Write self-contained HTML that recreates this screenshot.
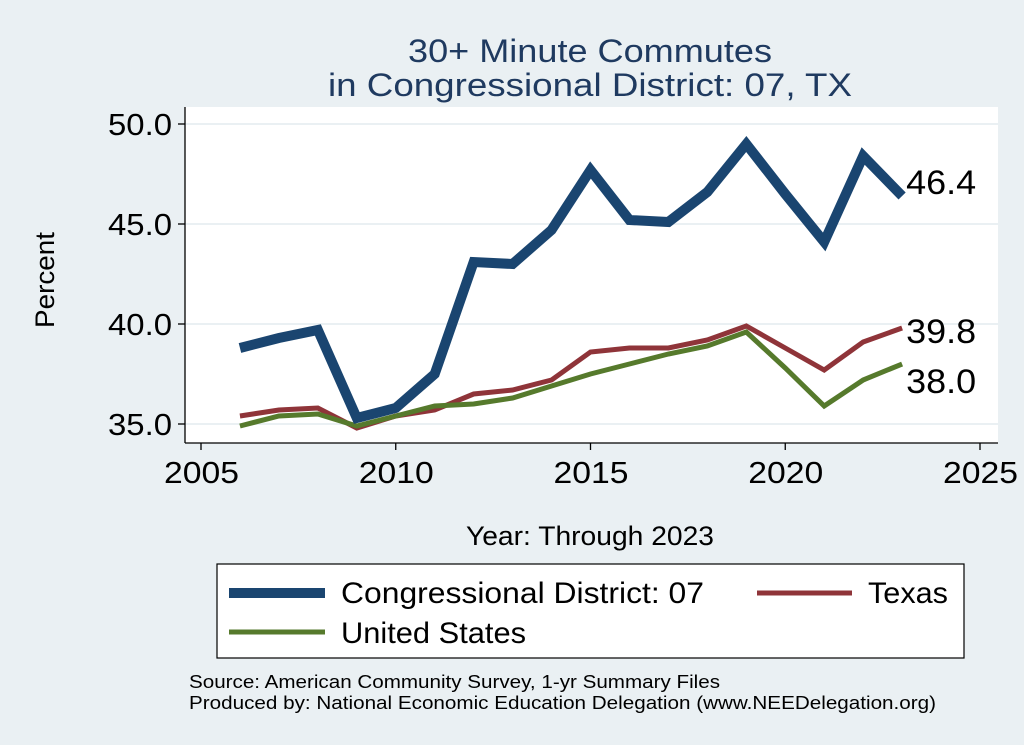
<!DOCTYPE html>
<html><head><meta charset="utf-8"><style>
body{margin:0;background:#eaf0f3;}
svg{display:block;font-family:"Liberation Sans",Arial,sans-serif;}
</style></head><body>
<svg id="chart" width="1024" height="745" viewBox="0 0 1024 745">
<rect x="0" y="0" width="1024" height="745" fill="#eaf0f3"/>
<text x="408" y="62" font-size="32" fill="#1f3a60" textLength="364" lengthAdjust="spacingAndGlyphs">30+ Minute Commutes</text>
<text x="328" y="96" font-size="32" fill="#1f3a60" textLength="524" lengthAdjust="spacingAndGlyphs">in Congressional District:  07, TX</text>
<rect x="185" y="107" width="813" height="336" fill="#fff"/>
<g id="grid"></g>
<line x1="185" y1="107" x2="185" y2="443" stroke="#000" stroke-width="1.3"/>
<line x1="185" y1="443" x2="998" y2="443" stroke="#000" stroke-width="1.3"/>
<g id="yticks"></g>
<g id="xticks"></g>
<g id="series"></g>
<text x="0" y="0" font-size="27" textLength="96" lengthAdjust="spacingAndGlyphs" transform="translate(54 328) rotate(-90)">Percent</text>
<text x="466" y="545" font-size="27" textLength="248" lengthAdjust="spacingAndGlyphs">Year: Through 2023</text>
<g>
<rect x="217" y="564" width="747" height="94" fill="#fff" stroke="#000" stroke-width="1.2"/>
<line x1="229" y1="593" x2="325" y2="593" stroke="#1a4570" stroke-width="10"/>
<text x="341" y="603" font-size="30" textLength="363" lengthAdjust="spacingAndGlyphs">Congressional District:  07</text>
<line x1="757" y1="593" x2="852" y2="593" stroke="#8f3439" stroke-width="5"/>
<text x="868" y="603" font-size="30" textLength="80" lengthAdjust="spacingAndGlyphs">Texas</text>
<line x1="229" y1="632" x2="325" y2="632" stroke="#567a2c" stroke-width="5"/>
<text x="341" y="643" font-size="30" textLength="185" lengthAdjust="spacingAndGlyphs">United States</text>
</g>
<text x="189" y="688" font-size="18" textLength="531" lengthAdjust="spacingAndGlyphs">Source: American Community Survey, 1-yr Summary Files</text>
<text x="189" y="709" font-size="18" textLength="747" lengthAdjust="spacingAndGlyphs">Produced by: National Economic Education Delegation (www.NEEDelegation.org)</text>
</svg>
<script>
const years=[2006,2007,2008,2009,2010,2011,2012,2013,2014,2015,2016,2017,2018,2019,2020,2021,2022,2023];
const district=[38.8,39.3,39.7,35.3,35.8,37.5,43.1,43.0,44.7,47.7,45.2,45.1,46.6,49.0,46.5,44.1,48.4,46.4];
const texas=[35.4,35.7,35.8,34.8,35.4,35.7,36.5,36.7,37.2,38.6,38.8,38.8,39.2,39.9,38.8,37.7,39.1,39.8];
const usa=[34.9,35.4,35.5,34.9,35.4,35.9,36.0,36.3,36.9,37.5,38.0,38.5,38.9,39.6,37.8,35.9,37.2,38.0];
const yTicks=[35,40,45,50];
const xTicks=[2005,2010,2015,2020,2025];
const NS='http://www.w3.org/2000/svg';
function X(v){return 201+(v-2005)*(980-201)/20;}
function Y(v){return 424-(v-35)*20;}
function mk(t,a,p){const e=document.createElementNS(NS,t);for(const k in a)e.setAttribute(k,a[k]);p.appendChild(e);return e;}
const grid=document.getElementById('grid'),yt=document.getElementById('yticks'),xt=document.getElementById('xticks'),sg=document.getElementById('series');
yTicks.forEach(v=>{
 const g=mk('line',{x1:185,x2:998,y1:Y(v),y2:Y(v),stroke:'#eaf0f3','stroke-width':2},grid);
 
 
 const t=mk('line',{x1:178,x2:185,y1:Y(v),y2:Y(v),stroke:'#000','stroke-width':1.3},yt);
 
 
 const l=mk('text',{x:108,y:Y(v)+11,'font-size':31,textLength:64,lengthAdjust:'spacingAndGlyphs'},yt);
 l.textContent=v.toFixed(1);
 
 
});
xTicks.forEach(v=>{
 const t=mk('line',{x1:X(v),x2:X(v),y1:443,y2:450,stroke:'#000','stroke-width':1.3},xt);
 
 
 const l=mk('text',{x:X(v)-37,y:483,'font-size':31,textLength:75,lengthAdjust:'spacingAndGlyphs'},xt);
 l.textContent=v;
 
 
});
function line(vals,color,w,name,dy){
 const pts=years.map((y,i)=>X(y)+','+Y(vals[i])).join(' ');
 const p=mk('polyline',{points:pts,fill:'none',stroke:color,'stroke-width':w,'stroke-linejoin':'miter'},sg);
 
 
 const n=vals.length-1;
 const l=mk('text',{x:X(years[n])+4,y:Y(vals[n])+dy,'font-size':34,textLength:70,lengthAdjust:'spacingAndGlyphs'},sg);
 l.textContent=vals[n].toFixed(1);
 
 
}
line(texas,'#8f3439',5,'texas',15);
line(usa,'#567a2c',5,'us',29);
line(district,'#1a4570',10,'district',-2);
</script>
</body></html>
